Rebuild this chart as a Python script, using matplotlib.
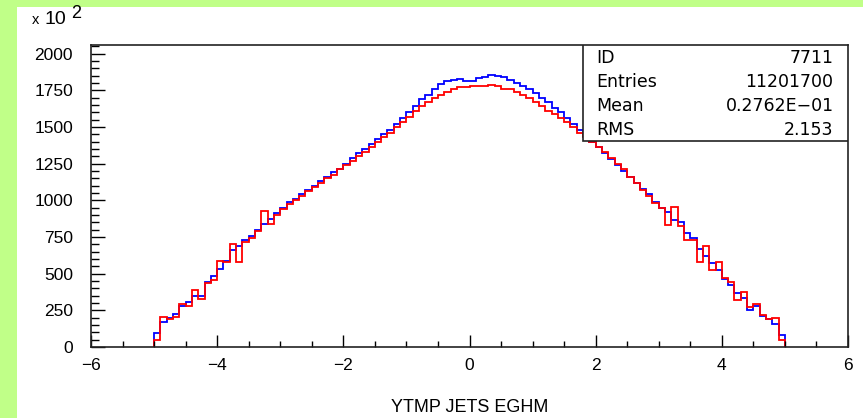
import matplotlib
matplotlib.use("Agg")
import matplotlib.pyplot as plt
from matplotlib.patches import Rectangle
from matplotlib.ticker import MultipleLocator
import numpy as np

# histogram 7711, bins of 0.1 from -5 to 5, contents in units of 10^2
x_lo, x_hi = -5.0, 5.0
blue = [97, 168, 195, 226, 278, 305, 346, 350, 441, 486,
        532, 583, 663, 686, 731, 754, 800, 840, 870, 910,
        950, 985, 1010, 1040, 1070, 1100, 1130, 1160, 1190, 1215,
        1250, 1290, 1320, 1350, 1380, 1420, 1450, 1480, 1520, 1560,
        1600, 1640, 1690, 1720, 1760, 1790, 1810, 1820, 1825, 1815,
        1815, 1830, 1840, 1855, 1850, 1840, 1820, 1800, 1780, 1755,
        1730, 1700, 1670, 1630, 1600, 1560, 1520, 1480, 1440, 1400,
        1360, 1320, 1280, 1240, 1200, 1160, 1120, 1080, 1040, 990,
        950, 918, 867, 849, 777, 740, 668, 618, 573, 522,
        464, 425, 369, 335, 255, 282, 209, 192, 160, 85]
red = [48, 205, 192, 205, 296, 282, 391, 328, 435, 454,
       583, 577, 704, 577, 713, 740, 790, 930, 840, 900,
       940, 975, 1000, 1030, 1060, 1090, 1120, 1150, 1175, 1210,
       1240, 1270, 1300, 1330, 1360, 1400, 1430, 1460, 1500, 1530,
       1570, 1610, 1640, 1670, 1700, 1720, 1740, 1760, 1770, 1775,
       1780, 1780, 1780, 1785, 1780, 1760, 1755, 1740, 1720, 1700,
       1670, 1640, 1610, 1590, 1560, 1530, 1500, 1460, 1430, 1400,
       1360, 1330, 1290, 1250, 1210, 1160, 1120, 1070, 1030, 980,
       945, 833, 952, 826, 731, 731, 577, 686, 527, 577,
       470, 441, 323, 373, 273, 290, 221, 192, 198, 46]

stat_names = ["ID", "Entries", "Mean", "RMS"]
stat_values = ["7711", "11201700", "0.2762E\u221201", "2.153"]
xlabel = "YTMP JETS EGHM"

green = "#c0ff88"
font = "Liberation Sans"
box_font = "DejaVu Sans"

fig = plt.figure(figsize=(8.63, 4.18), dpi=100, facecolor=green)
# white drawing area inside the green frame
fig.patches.append(Rectangle((17 / 863, 0), 1, 1 - 7 / 418, transform=fig.transFigure,
                             facecolor="white", edgecolor="none", zorder=-10))

ax = fig.add_axes([91 / 863, 71 / 418, 757 / 863, 302 / 418])
ax.set_facecolor("white")

edges = np.linspace(x_lo, x_hi, len(blue) + 1)
ax.stairs(blue, edges, baseline=0, color="#0000ff", linewidth=1.3)
ax.stairs(red, edges, baseline=0, color="#ff0000", linewidth=1.3)

ax.set_xlim(-6, 6)
ax.set_ylim(0, 2058)
ax.xaxis.set_major_locator(MultipleLocator(2))
ax.xaxis.set_minor_locator(MultipleLocator(0.5))
ax.yaxis.set_major_locator(MultipleLocator(250))
ax.yaxis.set_minor_locator(MultipleLocator(50))
ax.tick_params(which="both", direction="in", top=False, right=False, color="black")
ax.tick_params(axis="x", which="major", length=9, width=1, pad=8, labelsize=12.5)
ax.tick_params(axis="x", which="minor", length=4, width=1)
ax.tick_params(axis="y", which="major", length=10, width=1, pad=13, labelsize=12.5)
ax.tick_params(axis="y", which="minor", length=6, width=1)
for lab in ax.get_xticklabels() + ax.get_yticklabels():
    lab.set_fontfamily(font)
for sp in ax.spines.values():
    sp.set_linewidth(1.2)
    sp.set_color("#222222")

# statistics box
ax.add_patch(Rectangle((0.65, 0.683), 0.35, 0.317, transform=ax.transAxes,
                       facecolor="white", edgecolor="#222222", linewidth=1.2, zorder=5))
for i, (name, val) in enumerate(zip(stat_names, stat_values)):
    yy = 0.957 - i * 0.0795
    ax.text(0.668, yy, name, transform=ax.transAxes, ha="left", va="center",
            fontsize=12.5, family=box_font, zorder=6)
    ax.text(0.981, yy, val, transform=ax.transAxes, ha="right", va="center",
            fontsize=12.5, family=box_font, zorder=6)

# exponent label and axis title
fig.text(32 / 863, 1 - 20 / 418, "x", fontsize=10.5, family=font, ha="left", va="center")
fig.text(44 / 863, 1 - 19 / 418, "10", fontsize=14, family=font, ha="left", va="center")
fig.text(71 / 863, 1 - 14 / 418, "2", fontsize=13, family=font, ha="left", va="center")
fig.text(470 / 863, 1 - 407 / 418, xlabel, fontsize=13, family=font, ha="center", va="center")

fig.savefig("out.png", dpi=100, facecolor=green)
